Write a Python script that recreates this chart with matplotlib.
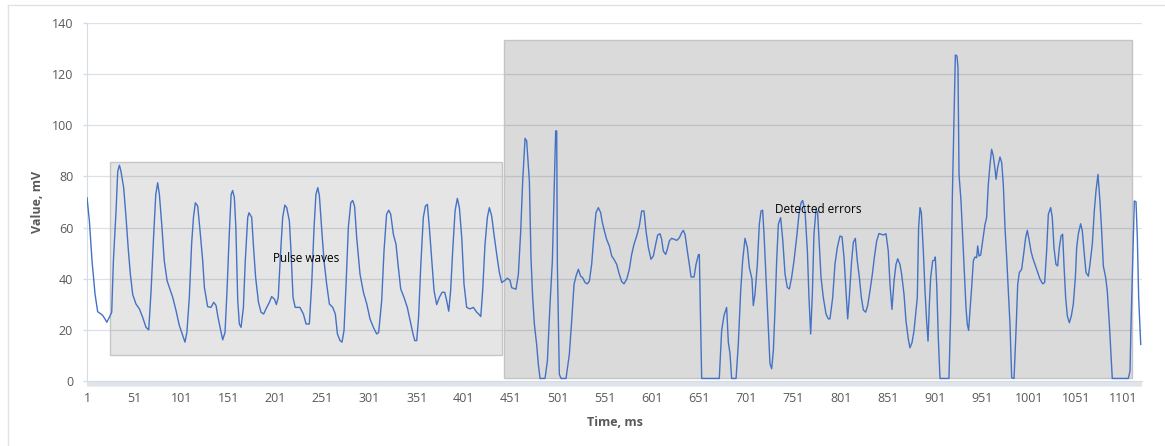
import matplotlib

matplotlib.use("Agg")

import matplotlib.pyplot as plt
from matplotlib.lines import Line2D
from matplotlib.patches import Rectangle

# Signal (time in ms, value in mV)
t_ms = [
    1, 3.5, 6.3, 9.5, 12.3, 15.9, 17.7, 20, 22, 24.8, 27.2, 29, 31.8, 33.6,
    35.4, 37, 39.9, 42.4, 44.9, 47, 49.5, 53, 56.6, 60, 63.6, 66.5, 69, 71.8,
    74, 76, 77.8, 80.3, 83, 86, 88.4, 92, 95.5, 99, 102.6, 105, 107, 109.6,
    112, 114, 116, 118.5, 121, 123.8, 125.6, 129, 132.6, 135.5, 138, 140,
    143, 145, 147.5, 149.6, 152, 154, 155.6, 157.4, 159, 161, 162.7, 164.5,
    167, 169, 171.6, 173, 175.8, 178, 180, 183, 185.7, 188.5, 191, 194.6, 197,
    200, 202, 204, 206, 208.7, 211, 213, 215.8, 217.5, 219.7,
    222, 227, 230.7, 233.5, 237, 239.5, 242, 244, 246, 247.7, 250, 252.6,
    255.4, 258.3, 261.8, 264.6, 266.8, 269.6, 271.7, 273.8, 276, 278.4, 281,
    283, 285, 287.3, 290.8, 294.4, 298, 301.4, 305, 308.5, 310.6, 313.8,
    316.3, 319, 321.3, 323.4, 326.2, 329, 331.5, 334, 337.5, 341, 344, 346.7,
    348.9, 351, 353, 355.2, 358, 360.2, 362.3, 364.4, 367, 369.4, 372.2, 375,
    377.9, 380.7, 382.8, 385, 387, 389.2, 391.7, 394.1, 396.3, 398.8, 401.2,
    404, 407.6, 411.1, 414.7, 416.8, 419, 421, 423.5, 426, 428.1, 430.6, 433,
    435.9, 438.7,
    441.2, 444.7, 447.2, 450, 451.8, 456.4, 458.9, 461.4, 463.5, 466, 467.7,
    470.6, 472.3, 474.1, 475.9, 478.3, 480.1, 481.9, 487.2, 489.7, 492.5, 495,
    497.1, 498.5, 499.6, 500.3, 502.4, 504.2, 509.5, 513, 515.5, 518, 520.1,
    522.6, 525, 527.2, 529.7, 532.1, 534.3, 536.7, 539.2, 541.3, 543.8, 546.3,
    547.7, 549.8, 552.6, 555.5, 558, 560.4, 563.3, 566.1, 568.6, 571, 573.9,
    576.7, 579.2, 581.7, 584.5, 587.3, 589.8, 592.3, 594.4, 596.9, 599.7,
    602.2, 604.7, 606.8, 609.3, 611, 612.8, 615.3, 617, 619.2, 621.6, 624.5,
    627, 629.8, 632.3, 634, 635.8, 638.3, 640.4, 642.2, 645.4, 647.5, 650, 651,
    653.5, 672.2, 674.7, 677.2, 680, 681.8, 683.6, 685.3, 690, 692.4, 694.9,
    697, 699.5, 702, 704.1, 706.9, 708.3, 710.1, 712.6, 714.7, 716.5, 718.2,
    719.7, 721.8, 724.3, 726, 727.8, 729.6, 731.3, 733.1, 734.9, 737.3, 739.5,
    742, 744.4, 746.6, 749, 751.5, 754.3, 756.8, 759, 760.7, 763.2, 765.7,
    767.4, 769.2, 771, 772.7, 774.9, 776.6, 778.4, 780.2, 782.6, 785.5, 788,
    789.7, 792.6, 795, 797.5, 800.3, 802.5, 804.6, 806.7, 808.5, 810.2, 812.7,
    814.5, 816.6, 818.7, 820.9, 823, 825.1, 827.6, 829.7, 832.2, 834.7, 836.8,
    839.3, 841.7,
    846.3, 849.2, 851.6, 853.4, 855.5, 857.7, 859.8, 861.6, 864, 865.8, 868.3,
    870.4, 872.9, 874.6, 876.8, 878.9, 880.7, 882.4, 883.8, 885.3, 886.7,
    888.8, 890.6, 892.3, 893.8, 895.2, 896.6, 898.7, 900.5, 901.5, 903, 904.7,
    906.5, 916, 917.8, 919.6, 921.4, 922.8, 924.5, 925.6, 926.7, 927.7, 928.8,
    930.6, 932.3, 934.1, 935.5, 936.9, 938.3, 940.1, 941.9, 943.6, 945.4,
    946.5, 947.9, 949.7, 951.8, 954.3, 956, 957.8, 959.6, 961.3, 963.1, 964.9,
    966, 967.7, 970.2, 972, 973.7, 975.5, 977.3, 979, 980.8, 982.6, 985.1,
    987.2, 989, 990.7, 993.2, 995.7, 997.4, 999.2, 1001, 1003.1, 1004.9,
    1007.3, 1009.8, 1012.7, 1015.5, 1017.6, 1019.7, 1021.5, 1024, 1025.7,
    1027.5, 1029.6, 1031.4, 1033.2, 1035, 1036.7, 1038.1, 1039.9, 1041.7,
    1043.8, 1045.9, 1048, 1050.2, 1051.6, 1053.3, 1055.8, 1057.6, 1059.4,
    1061.5, 1064, 1065.7, 1068.2, 1070.3, 1072.1, 1074.2, 1076.3, 1078.1,
    1079.9, 1082.4, 1084.1, 1086.3, 1088, 1089.4, 1106.4, 1108.2, 1109.3,
    1111, 1112.8, 1114.6, 1116, 1117.4, 1119.6,
]

value_mv = [
    71.7, 62.6, 47, 34, 27.1, 26.2, 25.6, 24.3, 23, 25, 26.9, 47, 66.5, 82,
    84.4, 82, 75.6, 64, 51, 41.8, 33.8, 30.1, 28.2, 25, 21, 20, 35.3, 57.4,
    73, 77.5, 73, 61.3, 47, 39.2, 36.6, 32.7, 27.5, 21.7, 17.8, 15.2, 19, 32.7,
    53.5, 64, 69.7, 68.4, 58.7, 47, 36.6, 29.1, 28.8, 30.8, 29.5, 25,
    19.7, 16.1, 19, 35.3, 57.4, 73, 74.5, 71.7, 60, 31.4, 22.3, 21,
    28.8, 47, 64, 65.8, 64, 51, 40.5, 30.8, 26.9, 26.2, 28.2, 30.8, 33,
    32, 29.9, 32.7, 47, 64, 68.8, 67.8, 62.6, 51, 32.7,
    28.8, 28.8, 26.2, 22.3, 22.3, 37.9, 60, 73, 75.6, 72.3, 60, 47,
    37.9, 30.1, 28.8, 26.2, 18.4, 15.8, 15.2, 19.7, 37.9, 60, 69.7,
    70.6, 68.4, 56, 41.8, 34.7, 30.1, 24.3, 21, 18.4, 19, 31.4,
    51, 65.2, 66.8, 65.2, 57.4, 53.5, 44.4, 36, 32.7, 28.8, 23.6, 19,
    15.8, 15.8, 25, 44.4, 64, 68.4, 69.1, 60, 47, 35.3, 29.9, 32.7,
    34.7, 34.7, 31.4, 27.3, 35.3, 51, 66.5, 71.4, 67.8, 56, 37.9,
    28.8, 28.2, 28.8, 26.9, 26.2, 25.2, 35.3, 53.5, 64, 67.8, 64.5, 57.4,
    49.6, 42.5,
    38.5, 39.4, 40.2, 39.4, 36.5, 35.9, 41.7, 58.7, 78.2, 94.9, 93.9,
    78.2, 48.2, 32.6, 22.2, 14.3, 6.5, 1, 1, 7.8, 30, 47,
    78, 97.8, 97.8, 45.6, 2.6, 1, 1, 10.4, 23.5, 37.8, 41,
    43.7, 41, 40.4, 38.5, 38, 39.1, 45.6, 57.4, 65.8, 67.8, 65.8,
    62.6, 59.3, 55.4, 52.8, 48.9, 47.6, 45.6, 41.7, 38.9, 38, 39.8,
    43.7, 49.5, 53.5, 56.7, 60.6, 66.5, 66.5, 58.7, 52.2, 47.6,
    48.9, 53.5, 57.1, 57.6, 55.4, 50.8, 49.5, 51.5, 54.8, 55.8, 55.4,
    55, 56, 58, 58.9, 57.4, 50.8, 45.6, 40.7, 40.7, 45.6, 49.3, 49.5,
    1, 1, 19.7, 25.6, 28.8, 15.2, 10.6, 1, 1, 14.5, 35.3,
    47, 55.8, 52.2, 44.4, 39.9, 29.5, 34, 45.7, 61.3, 66.5, 66.8,
    57.4, 40.5, 21, 6.8, 4.8, 11.9, 27.5, 47, 61.3, 63.9, 55.5,
    41.8, 36.6, 36, 40.5, 47, 56.1, 65.2, 69.7, 70.6, 66.5, 51,
    32.7, 18.4, 34, 57.4, 67.1, 65.8, 53.5, 40.5, 32.7, 26.2, 24.3,
    24.3, 32.7, 45.7, 52.2, 56.7, 56.4, 48.3, 35.3, 24.3, 32.7, 47,
    54.2, 55.8, 47, 40.5, 32.7, 27.8, 26.9, 29.5, 35.3, 41.8, 48.3,
    54.8, 57.7,
    57.1, 57.6, 50.8, 37.8, 28, 39.1, 45.6, 47.8, 45.6, 41.7, 33.9,
    23.5, 16.3, 13, 15, 19.6, 26.1, 32.6, 60, 67.8, 65.8,
    50.8, 35.2, 23.5, 15.6, 30, 40.4, 47, 47.2, 48.5, 37.8, 17,
    1, 1, 26, 71.7, 104, 127.5, 127.1, 122.6, 80.8, 75.6, 70.4,
    56, 43, 28.7, 22.2, 19.8, 27.4, 36.5, 47, 48.5, 48.2,
    52.8, 48.9, 49.3, 54.8, 61.3, 63.9, 76.9, 84.7, 90.6, 88, 82.8,
    78.9, 83.4, 87.6, 85.4, 76.9, 60, 48.2, 35.2, 22.2, 1.3, 1,
    19.6, 37.8, 42.4, 43.7, 50.8, 56, 58.9, 55.4, 50.8, 48.2,
    45.6, 43, 39.8, 38, 38.5, 50.8, 65.2, 67.8, 63.9,
    52.2, 45.6, 45, 52.2, 56.7, 57.4, 45.6, 32.6, 25.4,
    22.8, 25.4, 30, 40.4, 52.2, 57.4, 61.5, 58.7, 50.8,
    42.4, 41, 45.6, 53.5, 66.5, 74.3, 80.8, 70.4, 58.7,
    45, 40.4, 35.2, 22.2, 10.4, 1, 1, 3.9, 22.2,
    45.6, 70.4, 70.1, 56, 32.6, 14.3,
]

x_ticks = list(range(1, 1102, 50))
y_ticks = list(range(0, 141, 20))

# shaded annotation boxes: (t_start, t_end, v_low, v_high)
pulse_box = (25.4, 441.2, 10.1, 85.6)
error_box = (443.7, 1110.0, 1.2, 133.4)

GREY_TXT = "#595959"
AXIS_CLR = "#d6dce5"

plt.rcParams["font.family"] = ["Open Sans", "DejaVu Sans"]

fig = plt.figure(figsize=(11.65, 4.46), dpi=100)
ax = fig.add_axes([0.0747, 0.1457, 0.9056, 0.8027])

# chart-area border (top and left visible)
fig.add_artist(Line2D([0.0069, 1.0], [0.9888, 0.9888], color="#e2e2e2", lw=1))
fig.add_artist(Line2D([0.0069, 0.0069], [0.0, 0.9888], color="#e2e2e2", lw=1))

ax.set_xlim(1, 1121)
ax.set_ylim(0, 140)

ax.set_axisbelow(True)
ax.yaxis.grid(True, color="#dde1e8", lw=0.9)

for (t0, t1, v0, v1), face, edge in [
    (pulse_box, (0, 0, 0, 0.10), "#c6c6c6"),
    (error_box, (0, 0, 0, 0.145), "#c4c4c4"),
]:
    ax.add_patch(
        Rectangle((t0, v0), t1 - t0, v1 - v0, facecolor=face,
                  edgecolor=edge, lw=1, zorder=1)
    )

ax.plot(t_ms, value_mv, color="#4472c4", lw=1.0, zorder=3)

ax.text(233.5, 47.8, "Pulse waves", ha="center", va="center",
        fontsize=8.5, color="black", zorder=4)
ax.text(777, 66.9, "Detected errors", ha="center", va="center",
        fontsize=8.5, color="black", zorder=4)

# dense category ticks form the pale band under the x axis
ax.set_xticks(x_ticks)
ax.set_xticks(range(1, 1121, 1), minor=True)
ax.set_yticks(y_ticks)

ax.tick_params(axis="x", which="both", length=3.6, width=0.8, color="#dfe3ea",
               labelsize=9, labelcolor=GREY_TXT, pad=4)
ax.tick_params(axis="y", length=3, width=1, color=AXIS_CLR,
               labelsize=9, labelcolor=GREY_TXT, pad=7)

for side in ["top", "right"]:
    ax.spines[side].set_visible(False)
ax.spines["left"].set_color(AXIS_CLR)
ax.spines["bottom"].set_color(AXIS_CLR)

ax.set_ylabel("Value, mV", fontsize=9, fontweight="bold", color=GREY_TXT,
              va="center")
ax.yaxis.set_label_coords(-0.0469, 0.5)
ax.set_xlabel("Time, ms", fontsize=9, fontweight="bold", color=GREY_TXT,
              va="center")
ax.xaxis.set_label_coords(0.5, -0.117)

fig.savefig("out.png", dpi=100)
